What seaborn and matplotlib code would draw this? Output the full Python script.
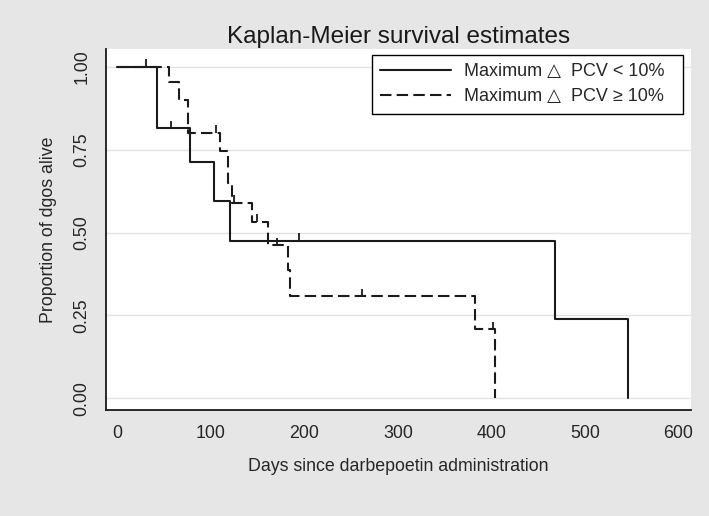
"""Kaplan-Meier survival estimates by maximum change in PCV"""
import matplotlib
matplotlib.use("Agg")
import matplotlib.pyplot as plt
import pandas as pd
import seaborn as sns

# step data: event days and survival after each step
low_days = [0, 42, 78, 104, 121, 468, 546]
low_surv = [1.0, 0.814, 0.713, 0.595, 0.475, 0.239, 0.0]
low_cens_days = [31, 58, 194]
low_cens_surv = [1.0, 0.814, 0.475]

high_days = [0, 55, 66, 76, 110, 118, 123, 144, 161, 183, 185, 382, 404]
high_surv = [1.0, 0.955, 0.900, 0.801, 0.747, 0.648, 0.590, 0.533, 0.462, 0.387, 0.308, 0.208, 0.0]
high_cens_days = [106, 125, 149, 171, 262, 402]
high_cens_surv = [0.801, 0.590, 0.533, 0.462, 0.308, 0.208]

low_label = "Maximum \u25b3  PCV < 10%  "
high_label = "Maximum \u25b3  PCV \u2265 10%  "

df = pd.concat([
    pd.DataFrame({"days": low_days, "surv": low_surv, "group": low_label}),
    pd.DataFrame({"days": high_days, "surv": high_surv, "group": high_label}),
])

sns.set_style("white")
plt.rcParams["font.family"] = ["Liberation Sans", "DejaVu Sans"]
plt.rcParams["font.size"] = 12.5

ink = "#1a1a1a"
fig = plt.figure(figsize=(7.09, 5.16), dpi=100, facecolor="#e6e6e6")
ax = fig.add_axes([0.1495, 0.2054, 0.8245, 0.6996])
ax.set_facecolor("white")

sns.lineplot(data=df, x="days", y="surv", style="group", estimator=None, sort=False,
             drawstyle="steps-post", color=ink, linewidth=1.5,
             dashes={low_label: "", high_label: (5.5, 2.5)}, ax=ax)

# censoring ticks
ax.vlines(low_cens_days, low_cens_surv, [s + 0.022 for s in low_cens_surv], color=ink, lw=1.3)
ax.vlines(high_cens_days, high_cens_surv, [s + 0.022 for s in high_cens_surv], color=ink, lw=1.3)

ax.set_xlim(-12, 613)
ax.set_ylim(-0.035, 1.053)
ax.set_xticks([0, 100, 200, 300, 400, 500, 600])
ax.set_yticks([0, 0.25, 0.5, 0.75, 1.0])
ax.set_yticklabels(["0.00", "0.25", "0.50", "0.75", "1.00"], rotation=90, va="center")
ax.yaxis.grid(True, color="#e2e2e2", lw=1)
ax.tick_params(axis="both", direction="out", length=6, width=1.2, color=ink,
               labelsize=12.8, pad=5)
for side in ["top", "right"]:
    ax.spines[side].set_visible(False)
for side in ["left", "bottom"]:
    ax.spines[side].set_color(ink)
    ax.spines[side].set_linewidth(1.3)

ax.set_title("Kaplan-Meier survival estimates", fontsize=17.5, pad=4, color=ink)
ax.set_xlabel("Days since darbepoetin administration", fontsize=12.8, labelpad=11)
ax.set_ylabel("Proportion of dgos alive", fontsize=12.8, labelpad=12)

sns.move_legend(ax, "upper right", bbox_to_anchor=(0.987, 0.983), borderaxespad=0,
                title=None, frameon=True, fancybox=False, edgecolor="black",
                facecolor="white", framealpha=1, fontsize=13, handlelength=3.9,
                handletextpad=0.75, labelspacing=0.45, borderpad=0.45)
ax.get_legend().get_frame().set_linewidth(1.0)

fig.savefig("out.png", dpi=100, facecolor=fig.get_facecolor())
